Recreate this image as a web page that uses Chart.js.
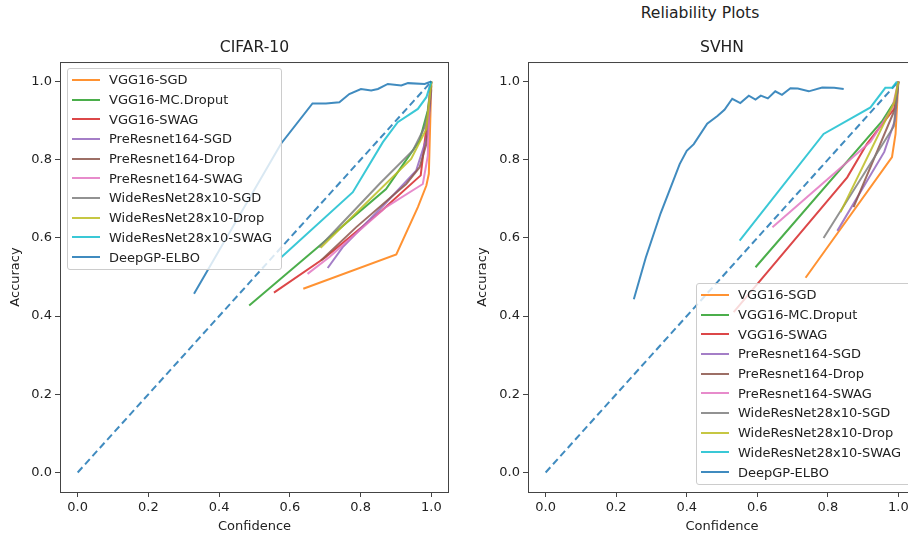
<!DOCTYPE html>
<html>
<head>
<meta charset="utf-8">
<script src="https://cdn.jsdelivr.net/npm/chart.js@4.4.0/dist/chart.umd.min.js"></script>
<style>
  html, body { margin: 0; padding: 0; background: #fff; }
  body { width: 908px; height: 535px; position: relative; overflow: hidden; font-family: "DejaVu Sans", sans-serif; }
  canvas { position: absolute; top: 0; }
  #cifar { left: 0; }
  #svhn { left: 460px; }
  .suptitle { position: absolute; top: 4px; left: 600px; width: 200px; text-align: center; font-size: 15.6px; color: #222; }
  .legend { position: absolute; background: rgba(255,255,255,0.8); border: 1px solid #ccc; border-radius: 3px;
            padding: 1px 0 3px 0; box-sizing: border-box; font-size: 13px; color: #222; }
  .legend .row { height: 19.7px; white-space: nowrap; display: flex; align-items: center; }
  .legend .swatch { display: inline-block; width: 28px; height: 2px; margin: 0 9px 0 4px; }
</style>
</head>
<body>
<div class="suptitle">Reliability Plots</div>
<canvas id="cifar" width="509" height="535"></canvas>
<canvas id="svhn" width="524" height="535"></canvas>
<div class="legend" id="legCifar" style="left:67px; top:68px; width:215px; height:202px;"></div>
<div class="legend" id="legSvhn" style="left:696px; top:283px; width:240px; height:202px;"></div>
<script>
// series names and colours (matplotlib tab10, drawn slightly transparent)
const labels = ['VGG16-SGD', 'VGG16-MC.Droput', 'VGG16-SWAG', 'PreResnet164-SGD', 'PreResnet164-Drop',
  'PreResnet164-SWAG', 'WideResNet28x10-SGD', 'WideResNet28x10-Drop', 'WideResNet28x10-SWAG', 'DeepGP-ELBO'];
const colors = ['rgba(255,127,14,0.85)', 'rgba(44,160,44,0.85)', 'rgba(214,39,40,0.85)', 'rgba(148,103,189,0.85)',
  'rgba(140,86,75,0.85)', 'rgba(227,119,194,0.85)', 'rgba(127,127,127,0.85)', 'rgba(188,189,34,0.85)',
  'rgba(23,190,207,0.85)', 'rgba(31,119,180,0.85)'];

const xTicks = [0, 0.2, 0.4, 0.6, 0.8, 1.0];
const yTicks = [0, 0.2, 0.4, 0.6, 0.8, 1.0];
const diagonal = [[0, 0], [1, 1]];

// CIFAR-10: [confidence, accuracy]
const cifarVgg16Sgd = [[0.638, 0.470], [0.901, 0.558], [0.962, 0.679], [0.986, 0.734], [0.993, 0.764], [1.0, 1.0]];
const cifarVgg16Drop = [[0.485, 0.427], [0.679, 0.576], [0.872, 0.725], [0.938, 0.811], [0.967, 0.849], [0.990, 0.926], [1.0, 1.0]];
const cifarVgg16Swag = [[0.555, 0.460], [0.700, 0.550], [0.860, 0.670], [0.970, 0.760], [0.995, 0.950], [1.0, 1.0]];
const cifarPreSgd = [[0.707, 0.523], [0.749, 0.576], [0.872, 0.690], [0.957, 0.772], [0.990, 0.866], [1.0, 0.980]];
const cifarPreDrop = [[0.688, 0.542], [0.787, 0.627], [0.929, 0.738], [0.967, 0.781], [0.986, 0.840], [1.0, 0.990]];
const cifarPreSwag = [[0.650, 0.508], [0.712, 0.551], [0.872, 0.679], [0.976, 0.738], [0.990, 0.810], [0.995, 0.990]];
const cifarWrnSgd = [[0.683, 0.576], [0.853, 0.738], [0.948, 0.824], [0.981, 0.883], [0.990, 0.920], [1.0, 1.0]];
const cifarWrnDrop = [[0.687, 0.575], [0.943, 0.802], [0.986, 0.879], [1.0, 1.0]];
const cifarWrnSwag = [[0.575, 0.550], [0.778, 0.717], [0.863, 0.845], [0.905, 0.896], [0.962, 0.930], [0.986, 0.960], [1.0, 1.0]];
const cifarDeepGp = [[0.329, 0.457], [0.575, 0.841], [0.664, 0.944], [0.702, 0.944], [0.740, 0.947], [0.768, 0.968],
  [0.801, 0.981], [0.830, 0.977], [0.849, 0.981], [0.877, 0.994], [0.915, 0.990], [0.934, 0.996], [0.981, 0.994], [1.0, 1.0]];

// SVHN
const svhnVgg16Sgd = [[0.737, 0.498], [0.982, 0.807], [0.992, 0.866], [1.0, 1.0]];
const svhnVgg16Drop = [[0.595, 0.525], [0.955, 0.900], [0.990, 0.950], [1.0, 1.0]];
const svhnVgg16Swag = [[0.533, 0.410], [0.855, 0.755], [0.911, 0.841], [0.988, 0.930], [1.0, 1.0]];
const svhnPreSgd = [[0.827, 0.618], [0.960, 0.820], [0.990, 0.900], [1.0, 1.0]];
const svhnPreDrop = [[0.873, 0.679], [0.992, 0.933], [1.0, 1.0]];
const svhnPreSwag = [[0.643, 0.627], [0.921, 0.846], [0.983, 0.933], [1.0, 1.0]];
const svhnWrnSgd = [[0.788, 0.600], [0.987, 0.885], [1.0, 1.0]];
const svhnWrnDrop = [[0.836, 0.666], [0.988, 0.946], [1.0, 1.0]];
const svhnWrnSwag = [[0.550, 0.593], [0.788, 0.866], [0.921, 0.934], [0.963, 0.984], [0.982, 0.984], [0.996, 1.0]];
const svhnDeepGp = [[0.250, 0.443], [0.284, 0.550], [0.326, 0.663], [0.380, 0.789], [0.400, 0.823], [0.420, 0.840],
  [0.458, 0.892], [0.487, 0.912], [0.507, 0.928], [0.529, 0.956], [0.552, 0.945], [0.576, 0.964], [0.595, 0.954],
  [0.610, 0.964], [0.630, 0.957], [0.651, 0.975], [0.670, 0.966], [0.694, 0.983], [0.715, 0.982], [0.746, 0.975],
  [0.784, 0.985], [0.818, 0.984], [0.845, 0.981]];

const cifarSeries = [cifarVgg16Sgd, cifarVgg16Drop, cifarVgg16Swag, cifarPreSgd, cifarPreDrop,
  cifarPreSwag, cifarWrnSgd, cifarWrnDrop, cifarWrnSwag, cifarDeepGp];
const svhnSeries = [svhnVgg16Sgd, svhnVgg16Drop, svhnVgg16Swag, svhnPreSgd, svhnPreDrop,
  svhnPreSwag, svhnWrnSgd, svhnWrnDrop, svhnWrnSwag, svhnDeepGp];

const font = { family: 'DejaVu Sans', size: 13 };
const textColor = '#222';
const axisColor = '#444';

const toXY = pts => pts.map(p => ({ x: p[0], y: p[1] }));

// box around the plot area, like matplotlib spines
const frame = {
  id: 'frame',
  afterDatasetsDraw(chart) {
    const { ctx, chartArea: a } = chart;
    ctx.save();
    ctx.strokeStyle = axisColor;
    ctx.lineWidth = 1;
    ctx.strokeRect(a.left + 0.5, a.top + 0.5, a.right - a.left - 1, a.bottom - a.top);
    ctx.restore();
  }
};

function makeChart(id, title, series, sideWidth, yTitlePad) {
  const n = series.length;
  const datasets = series.map((pts, i) => ({
    label: labels[i],
    data: toXY(pts),
    borderColor: colors[i],
    borderWidth: 2,
    pointRadius: 0,
    tension: 0,
    fill: false,
    order: n - i,
    xAxisID: 'x',
    yAxisID: 'y'
  }));
  datasets.unshift({
    label: 'perfect',
    data: toXY(diagonal),
    borderColor: colors[9],
    borderWidth: 2,
    borderDash: [7, 4],
    pointRadius: 0,
    order: n + 1,
    xAxisID: 'x',
    yAxisID: 'y'
  });

  return new Chart(document.getElementById(id), {
    type: 'line',
    data: { datasets },
    options: {
      responsive: false,
      animation: false,
      devicePixelRatio: 1,
      layout: { padding: 0 },
      plugins: {
        legend: { display: false },
        tooltip: { enabled: false },
        title: {
          display: true,
          text: title,
          color: textColor,
          font: { family: 'DejaVu Sans', size: 15.6, weight: 'normal' },
          padding: { top: 38.6, bottom: 4.7 }
        }
      },
      scales: {
        x: {
          type: 'linear',
          min: -0.05,
          max: 1.05,
          afterBuildTicks: s => { s.ticks = xTicks.map(v => ({ value: v })); },
          afterFit: s => { s.height = 43; },
          ticks: { callback: v => v.toFixed(1), font, color: textColor, padding: 3, maxRotation: 0, autoSkip: false },
          grid: { drawOnChartArea: false, tickLength: 5, color: axisColor },
          border: { display: false },
          title: { display: true, text: 'Confidence', font, color: textColor, padding: { top: 0, bottom: 1 } }
        },
        y: {
          type: 'linear',
          position: 'left',
          min: -0.05,
          max: 1.05,
          afterBuildTicks: s => { s.ticks = yTicks.map(v => ({ value: v })); },
          afterFit: s => { s.width = sideWidth; },
          ticks: { callback: v => v.toFixed(1), font, color: textColor, padding: 3, autoSkip: false },
          grid: { drawOnChartArea: false, tickLength: 5, color: axisColor },
          border: { display: false },
          title: { display: true, text: 'Accuracy', font, color: textColor, padding: { top: yTitlePad, bottom: 0 } }
        },
        yRight: {
          type: 'linear',
          position: 'right',
          afterFit: s => { s.width = sideWidth; },
          ticks: { display: false },
          grid: { display: false },
          border: { display: false }
        }
      }
    },
    plugins: [frame]
  });
}

function makeLegend(id) {
  const box = document.getElementById(id);
  labels.forEach((name, i) => {
    const row = document.createElement('div');
    row.className = 'row';
    const sw = document.createElement('span');
    sw.className = 'swatch';
    sw.style.background = colors[i];
    row.appendChild(sw);
    row.appendChild(document.createTextNode(name));
    box.appendChild(row);
  });
}

makeChart('cifar', 'CIFAR-10', cifarSeries, 60, 8);
makeChart('svhn', 'SVHN', svhnSeries, 68, 15);
makeLegend('legCifar');
makeLegend('legSvhn');
</script>
</body>
</html>
